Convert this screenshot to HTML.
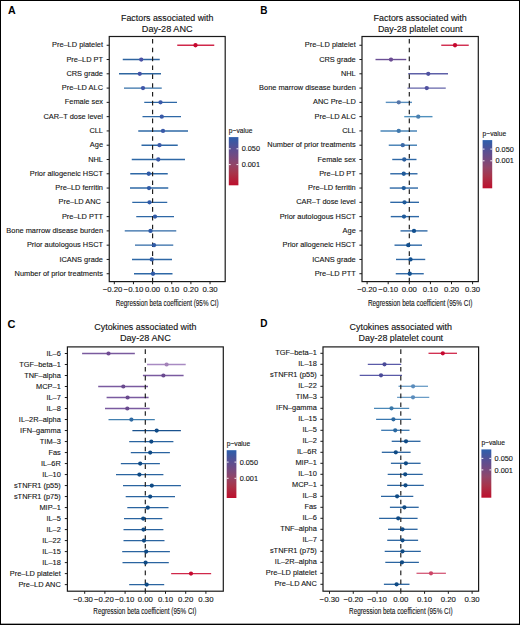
<!DOCTYPE html>
<html><head><meta charset="utf-8"><style>
html,body{margin:0;padding:0;background:#fff;}
body{width:520px;height:625px;overflow:hidden;position:relative;}
svg{position:absolute;left:0;top:0;font-family:"Liberation Sans",sans-serif;}
.t{stroke:#141414;stroke-width:0.12px;}
.bd{position:absolute;left:0;top:0;width:520px;height:625px;box-sizing:border-box;border:1px solid #000;border-bottom-width:1.35px;}
</style></head><body>
<svg width="520" height="625" viewBox="0 0 520 625">
<rect x="109.25" y="36.5" width="115.95" height="245.10" fill="none" stroke="#1a1a1a" stroke-width="1.2"/>
<line x1="106.65" y1="45.25" x2="109.25" y2="45.25" stroke="#1a1a1a" stroke-width="1"/>
<text x="103.0" y="47.35" text-anchor="end" font-size="7.7" fill="#141414" class="t" textLength="51.01" lengthAdjust="spacingAndGlyphs">Pre–LD platelet</text>
<line x1="106.65" y1="59.53" x2="109.25" y2="59.53" stroke="#1a1a1a" stroke-width="1"/>
<text x="103.0" y="61.63" text-anchor="end" font-size="7.7" fill="#141414" class="t" textLength="36.60" lengthAdjust="spacingAndGlyphs">Pre–LD PT</text>
<line x1="106.65" y1="73.81" x2="109.25" y2="73.81" stroke="#1a1a1a" stroke-width="1"/>
<text x="103.0" y="75.91" text-anchor="end" font-size="7.7" fill="#141414" class="t" textLength="36.61" lengthAdjust="spacingAndGlyphs">CRS grade</text>
<line x1="106.65" y1="88.09" x2="109.25" y2="88.09" stroke="#1a1a1a" stroke-width="1"/>
<text x="103.0" y="90.19" text-anchor="end" font-size="7.7" fill="#141414" class="t" textLength="41.13" lengthAdjust="spacingAndGlyphs">Pre–LD ALC</text>
<line x1="106.65" y1="102.37" x2="109.25" y2="102.37" stroke="#1a1a1a" stroke-width="1"/>
<text x="103.0" y="104.47" text-anchor="end" font-size="7.7" fill="#141414" class="t" textLength="38.25" lengthAdjust="spacingAndGlyphs">Female sex</text>
<line x1="106.65" y1="116.65" x2="109.25" y2="116.65" stroke="#1a1a1a" stroke-width="1"/>
<text x="103.0" y="118.75" text-anchor="end" font-size="7.7" fill="#141414" class="t" textLength="59.50" lengthAdjust="spacingAndGlyphs">CAR–T dose level</text>
<line x1="106.65" y1="130.93" x2="109.25" y2="130.93" stroke="#1a1a1a" stroke-width="1"/>
<text x="103.0" y="133.03" text-anchor="end" font-size="7.7" fill="#141414" class="t" textLength="13.58" lengthAdjust="spacingAndGlyphs">CLL</text>
<line x1="106.65" y1="145.21" x2="109.25" y2="145.21" stroke="#1a1a1a" stroke-width="1"/>
<text x="103.0" y="147.31" text-anchor="end" font-size="7.7" fill="#141414" class="t" textLength="13.17" lengthAdjust="spacingAndGlyphs">Age</text>
<line x1="106.65" y1="159.49" x2="109.25" y2="159.49" stroke="#1a1a1a" stroke-width="1"/>
<text x="103.0" y="161.59" text-anchor="end" font-size="7.7" fill="#141414" class="t" textLength="14.80" lengthAdjust="spacingAndGlyphs">NHL</text>
<line x1="106.65" y1="173.77" x2="109.25" y2="173.77" stroke="#1a1a1a" stroke-width="1"/>
<text x="103.0" y="175.87" text-anchor="end" font-size="7.7" fill="#141414" class="t" textLength="73.21" lengthAdjust="spacingAndGlyphs">Prior allogeneic HSCT</text>
<line x1="106.65" y1="188.05" x2="109.25" y2="188.05" stroke="#1a1a1a" stroke-width="1"/>
<text x="103.0" y="190.15" text-anchor="end" font-size="7.7" fill="#141414" class="t" textLength="47.71" lengthAdjust="spacingAndGlyphs">Pre–LD ferritin</text>
<line x1="106.65" y1="202.33" x2="109.25" y2="202.33" stroke="#1a1a1a" stroke-width="1"/>
<text x="103.0" y="204.43" text-anchor="end" font-size="7.7" fill="#141414" class="t" textLength="44.42" lengthAdjust="spacingAndGlyphs">Pre–LD ANC&#160;</text>
<line x1="106.65" y1="216.61" x2="109.25" y2="216.61" stroke="#1a1a1a" stroke-width="1"/>
<text x="103.0" y="218.71" text-anchor="end" font-size="7.7" fill="#141414" class="t" textLength="41.12" lengthAdjust="spacingAndGlyphs">Pre–LD PTT</text>
<line x1="106.65" y1="230.89" x2="109.25" y2="230.89" stroke="#1a1a1a" stroke-width="1"/>
<text x="103.0" y="232.99" text-anchor="end" font-size="7.7" fill="#141414" class="t" textLength="96.67" lengthAdjust="spacingAndGlyphs">Bone marrow disease burden</text>
<line x1="106.65" y1="245.17" x2="109.25" y2="245.17" stroke="#1a1a1a" stroke-width="1"/>
<text x="103.0" y="247.27" text-anchor="end" font-size="7.7" fill="#141414" class="t" textLength="76.09" lengthAdjust="spacingAndGlyphs">Prior autologous HSCT</text>
<line x1="106.65" y1="259.45" x2="109.25" y2="259.45" stroke="#1a1a1a" stroke-width="1"/>
<text x="103.0" y="261.55" text-anchor="end" font-size="7.7" fill="#141414" class="t" textLength="43.60" lengthAdjust="spacingAndGlyphs">ICANS grade</text>
<line x1="106.65" y1="273.73" x2="109.25" y2="273.73" stroke="#1a1a1a" stroke-width="1"/>
<text x="103.0" y="275.83" text-anchor="end" font-size="7.7" fill="#141414" class="t" textLength="88.42" lengthAdjust="spacingAndGlyphs">Number of prior treatments</text>
<line x1="177.25" y1="45.25" x2="214.25" y2="45.25" stroke="#d0284a" stroke-width="1.4"/>
<line x1="122.75" y1="59.53" x2="159.75" y2="59.53" stroke="#2e64a0" stroke-width="1.4"/>
<line x1="119" y1="73.81" x2="161" y2="73.81" stroke="#2e66a0" stroke-width="1.4"/>
<line x1="124" y1="88.09" x2="161.75" y2="88.09" stroke="#3570a8" stroke-width="1.4"/>
<line x1="144.25" y1="102.37" x2="177" y2="102.37" stroke="#2e68a6" stroke-width="1.4"/>
<line x1="142.5" y1="116.65" x2="181" y2="116.65" stroke="#2e68a6" stroke-width="1.4"/>
<line x1="138.25" y1="130.93" x2="188" y2="130.93" stroke="#2e68a6" stroke-width="1.4"/>
<line x1="141.5" y1="145.21" x2="177.75" y2="145.21" stroke="#2e68a6" stroke-width="1.4"/>
<line x1="131.75" y1="159.49" x2="185" y2="159.49" stroke="#2e68a6" stroke-width="1.4"/>
<line x1="130.25" y1="173.77" x2="167.75" y2="173.77" stroke="#2e68a6" stroke-width="1.4"/>
<line x1="130" y1="188.05" x2="168.25" y2="188.05" stroke="#2e68a6" stroke-width="1.4"/>
<line x1="132.25" y1="202.33" x2="167.25" y2="202.33" stroke="#2e68a6" stroke-width="1.4"/>
<line x1="136.25" y1="216.61" x2="174" y2="216.61" stroke="#2e68a6" stroke-width="1.4"/>
<line x1="124.75" y1="230.89" x2="176.25" y2="230.89" stroke="#2e68a6" stroke-width="1.4"/>
<line x1="135" y1="245.17" x2="173.25" y2="245.17" stroke="#2e68a6" stroke-width="1.4"/>
<line x1="132" y1="259.45" x2="172" y2="259.45" stroke="#2e68a6" stroke-width="1.4"/>
<line x1="134" y1="273.73" x2="172.5" y2="273.73" stroke="#2e68a6" stroke-width="1.4"/>
<line x1="152.6" y1="38.90" x2="152.6" y2="281.6" stroke="#1a1a1a" stroke-width="1.15" stroke-dasharray="4.6 4.25"/>
<circle cx="195.5" cy="45.25" r="2.15" fill="#c5082f"/>
<circle cx="141.25" cy="59.53" r="2.15" fill="#4a52a6"/>
<circle cx="139.75" cy="73.81" r="2.15" fill="#4253a6"/>
<circle cx="143" cy="88.09" r="2.15" fill="#3e55a8"/>
<circle cx="160.5" cy="102.37" r="2.15" fill="#3a5aa8"/>
<circle cx="161.75" cy="116.65" r="2.15" fill="#3a5aa8"/>
<circle cx="163" cy="130.93" r="2.15" fill="#3a5aa8"/>
<circle cx="159.5" cy="145.21" r="2.15" fill="#3a5aa8"/>
<circle cx="158.25" cy="159.49" r="2.15" fill="#3a5aa8"/>
<circle cx="148.75" cy="173.77" r="2.15" fill="#2f5aa6"/>
<circle cx="149" cy="188.05" r="2.15" fill="#2f5aa6"/>
<circle cx="149.5" cy="202.33" r="2.15" fill="#2f5aa6"/>
<circle cx="155" cy="216.61" r="2.15" fill="#2f5aa6"/>
<circle cx="150.5" cy="230.89" r="2.15" fill="#2f5aa6"/>
<circle cx="154" cy="245.17" r="2.15" fill="#2f5aa6"/>
<circle cx="151.75" cy="259.45" r="2.15" fill="#2f5aa6"/>
<circle cx="153" cy="273.73" r="2.15" fill="#2f5aa6"/>
<line x1="114.30" y1="281.6" x2="114.30" y2="284.20" stroke="#1a1a1a" stroke-width="1"/>
<text x="112.60" y="292.3" text-anchor="middle" font-size="7.8" fill="#141414" class="t">−0.20</text>
<line x1="133.45" y1="281.6" x2="133.45" y2="284.20" stroke="#1a1a1a" stroke-width="1"/>
<text x="133.45" y="292.3" text-anchor="middle" font-size="7.8" fill="#141414" class="t">−0.10</text>
<line x1="152.60" y1="281.6" x2="152.60" y2="284.20" stroke="#1a1a1a" stroke-width="1"/>
<text x="152.60" y="292.3" text-anchor="middle" font-size="7.8" fill="#141414" class="t">0.00</text>
<line x1="171.75" y1="281.6" x2="171.75" y2="284.20" stroke="#1a1a1a" stroke-width="1"/>
<text x="171.75" y="292.3" text-anchor="middle" font-size="7.8" fill="#141414" class="t">0.10</text>
<line x1="190.90" y1="281.6" x2="190.90" y2="284.20" stroke="#1a1a1a" stroke-width="1"/>
<text x="190.90" y="292.3" text-anchor="middle" font-size="7.8" fill="#141414" class="t">0.20</text>
<line x1="210.05" y1="281.6" x2="210.05" y2="284.20" stroke="#1a1a1a" stroke-width="1"/>
<text x="210.05" y="292.3" text-anchor="middle" font-size="7.8" fill="#141414" class="t">0.30</text>
<text x="167.22" y="305.5" text-anchor="middle" font-size="8.3" fill="#141414" class="t" textLength="103" lengthAdjust="spacingAndGlyphs">Regression beta coefficient (95% CI)</text>
<text x="167.22" y="21.0" text-anchor="middle" font-size="8.9" fill="#111" class="t" textLength="92.4" lengthAdjust="spacingAndGlyphs">Factors associated with</text>
<text x="167.22" y="31.7" text-anchor="middle" font-size="8.9" fill="#111" class="t" textLength="50.8" lengthAdjust="spacingAndGlyphs">Day-28 ANC</text>
<text x="8" y="14.4" font-size="10.6" font-weight="bold" fill="#000">A</text>
<defs><linearGradient id="gA" x1="0" y1="0" x2="0" y2="1"><stop offset="0" stop-color="#2c5fac"/><stop offset="0.12" stop-color="#42569e"/><stop offset="0.24" stop-color="#5a4f92"/><stop offset="0.4" stop-color="#744a80"/><stop offset="0.57" stop-color="#924568"/><stop offset="0.75" stop-color="#a8344a"/><stop offset="1" stop-color="#bd0f2c"/></linearGradient></defs>
<rect x="228.8" y="137.1" width="9.60" height="48.20" fill="url(#gA)"/>
<line x1="228.8" y1="148.8" x2="230.70" y2="148.8" stroke="#fff" stroke-width="0.9"/>
<line x1="236.50" y1="148.8" x2="238.4" y2="148.8" stroke="#fff" stroke-width="0.9"/>
<text x="241.70" y="151.40" font-size="7.3" fill="#141414" class="t">0.050</text>
<line x1="228.8" y1="164.6" x2="230.70" y2="164.6" stroke="#fff" stroke-width="0.9"/>
<line x1="236.50" y1="164.6" x2="238.4" y2="164.6" stroke="#fff" stroke-width="0.9"/>
<text x="241.70" y="167.20" font-size="7.3" fill="#141414" class="t">0.001</text>
<text x="228.8" y="132.80" font-size="7.3" fill="#141414" class="t" textLength="23.6" lengthAdjust="spacingAndGlyphs">p−value</text>
<rect x="362.0" y="36.5" width="116.30" height="245.10" fill="none" stroke="#1a1a1a" stroke-width="1.2"/>
<line x1="359.40" y1="45.25" x2="362.0" y2="45.25" stroke="#1a1a1a" stroke-width="1"/>
<text x="355.75" y="47.35" text-anchor="end" font-size="7.7" fill="#141414" class="t" textLength="51.01" lengthAdjust="spacingAndGlyphs">Pre–LD platelet</text>
<line x1="359.40" y1="59.53" x2="362.0" y2="59.53" stroke="#1a1a1a" stroke-width="1"/>
<text x="355.75" y="61.63" text-anchor="end" font-size="7.7" fill="#141414" class="t" textLength="36.61" lengthAdjust="spacingAndGlyphs">CRS grade</text>
<line x1="359.40" y1="73.81" x2="362.0" y2="73.81" stroke="#1a1a1a" stroke-width="1"/>
<text x="355.75" y="75.91" text-anchor="end" font-size="7.7" fill="#141414" class="t" textLength="14.80" lengthAdjust="spacingAndGlyphs">NHL</text>
<line x1="359.40" y1="88.09" x2="362.0" y2="88.09" stroke="#1a1a1a" stroke-width="1"/>
<text x="355.75" y="90.19" text-anchor="end" font-size="7.7" fill="#141414" class="t" textLength="96.67" lengthAdjust="spacingAndGlyphs">Bone marrow disease burden</text>
<line x1="359.40" y1="102.37" x2="362.0" y2="102.37" stroke="#1a1a1a" stroke-width="1"/>
<text x="355.75" y="104.47" text-anchor="end" font-size="7.7" fill="#141414" class="t" textLength="42.77" lengthAdjust="spacingAndGlyphs">ANC Pre–LD</text>
<line x1="359.40" y1="116.65" x2="362.0" y2="116.65" stroke="#1a1a1a" stroke-width="1"/>
<text x="355.75" y="118.75" text-anchor="end" font-size="7.7" fill="#141414" class="t" textLength="41.13" lengthAdjust="spacingAndGlyphs">Pre–LD ALC</text>
<line x1="359.40" y1="130.93" x2="362.0" y2="130.93" stroke="#1a1a1a" stroke-width="1"/>
<text x="355.75" y="133.03" text-anchor="end" font-size="7.7" fill="#141414" class="t" textLength="13.58" lengthAdjust="spacingAndGlyphs">CLL</text>
<line x1="359.40" y1="145.21" x2="362.0" y2="145.21" stroke="#1a1a1a" stroke-width="1"/>
<text x="355.75" y="147.31" text-anchor="end" font-size="7.7" fill="#141414" class="t" textLength="88.42" lengthAdjust="spacingAndGlyphs">Number of prior treatments</text>
<line x1="359.40" y1="159.49" x2="362.0" y2="159.49" stroke="#1a1a1a" stroke-width="1"/>
<text x="355.75" y="161.59" text-anchor="end" font-size="7.7" fill="#141414" class="t" textLength="38.25" lengthAdjust="spacingAndGlyphs">Female sex</text>
<line x1="359.40" y1="173.77" x2="362.0" y2="173.77" stroke="#1a1a1a" stroke-width="1"/>
<text x="355.75" y="175.87" text-anchor="end" font-size="7.7" fill="#141414" class="t" textLength="36.60" lengthAdjust="spacingAndGlyphs">Pre–LD PT</text>
<line x1="359.40" y1="188.05" x2="362.0" y2="188.05" stroke="#1a1a1a" stroke-width="1"/>
<text x="355.75" y="190.15" text-anchor="end" font-size="7.7" fill="#141414" class="t" textLength="47.71" lengthAdjust="spacingAndGlyphs">Pre–LD ferritin</text>
<line x1="359.40" y1="202.33" x2="362.0" y2="202.33" stroke="#1a1a1a" stroke-width="1"/>
<text x="355.75" y="204.43" text-anchor="end" font-size="7.7" fill="#141414" class="t" textLength="59.50" lengthAdjust="spacingAndGlyphs">CAR–T dose level</text>
<line x1="359.40" y1="216.61" x2="362.0" y2="216.61" stroke="#1a1a1a" stroke-width="1"/>
<text x="355.75" y="218.71" text-anchor="end" font-size="7.7" fill="#141414" class="t" textLength="76.09" lengthAdjust="spacingAndGlyphs">Prior autologous HSCT</text>
<line x1="359.40" y1="230.89" x2="362.0" y2="230.89" stroke="#1a1a1a" stroke-width="1"/>
<text x="355.75" y="232.99" text-anchor="end" font-size="7.7" fill="#141414" class="t" textLength="13.17" lengthAdjust="spacingAndGlyphs">Age</text>
<line x1="359.40" y1="245.17" x2="362.0" y2="245.17" stroke="#1a1a1a" stroke-width="1"/>
<text x="355.75" y="247.27" text-anchor="end" font-size="7.7" fill="#141414" class="t" textLength="73.21" lengthAdjust="spacingAndGlyphs">Prior allogeneic HSCT</text>
<line x1="359.40" y1="259.45" x2="362.0" y2="259.45" stroke="#1a1a1a" stroke-width="1"/>
<text x="355.75" y="261.55" text-anchor="end" font-size="7.7" fill="#141414" class="t" textLength="43.60" lengthAdjust="spacingAndGlyphs">ICANS grade</text>
<line x1="359.40" y1="273.73" x2="362.0" y2="273.73" stroke="#1a1a1a" stroke-width="1"/>
<text x="355.75" y="275.83" text-anchor="end" font-size="7.7" fill="#141414" class="t" textLength="41.12" lengthAdjust="spacingAndGlyphs">Pre–LD PTT</text>
<line x1="441.25" y1="45.25" x2="468.75" y2="45.25" stroke="#d0284a" stroke-width="1.4"/>
<line x1="375.5" y1="59.53" x2="406.25" y2="59.53" stroke="#6a4f95" stroke-width="1.4"/>
<line x1="408.25" y1="73.81" x2="448" y2="73.81" stroke="#5e60a8" stroke-width="1.4"/>
<line x1="407.5" y1="88.09" x2="445.75" y2="88.09" stroke="#6464aa" stroke-width="1.4"/>
<line x1="385.75" y1="102.37" x2="412" y2="102.37" stroke="#5a90c0" stroke-width="1.4"/>
<line x1="404.25" y1="116.65" x2="432.5" y2="116.65" stroke="#5090bd" stroke-width="1.4"/>
<line x1="380.5" y1="130.93" x2="417" y2="130.93" stroke="#4a86b8" stroke-width="1.4"/>
<line x1="388.75" y1="145.21" x2="417" y2="145.21" stroke="#3f7cb2" stroke-width="1.4"/>
<line x1="392.25" y1="159.49" x2="416.5" y2="159.49" stroke="#2e68a6" stroke-width="1.4"/>
<line x1="390.25" y1="173.77" x2="417.5" y2="173.77" stroke="#2e68a6" stroke-width="1.4"/>
<line x1="389.75" y1="188.05" x2="418" y2="188.05" stroke="#2e68a6" stroke-width="1.4"/>
<line x1="390.25" y1="202.33" x2="419" y2="202.33" stroke="#2e68a6" stroke-width="1.4"/>
<line x1="390.75" y1="216.61" x2="419" y2="216.61" stroke="#2e68a6" stroke-width="1.4"/>
<line x1="400.5" y1="230.89" x2="427.5" y2="230.89" stroke="#2e68a6" stroke-width="1.4"/>
<line x1="394.5" y1="245.17" x2="422" y2="245.17" stroke="#2e68a6" stroke-width="1.4"/>
<line x1="396" y1="259.45" x2="425.25" y2="259.45" stroke="#2e68a6" stroke-width="1.4"/>
<line x1="395.75" y1="273.73" x2="423.75" y2="273.73" stroke="#2e68a6" stroke-width="1.4"/>
<line x1="409.3" y1="38.90" x2="409.3" y2="281.6" stroke="#1a1a1a" stroke-width="1.15" stroke-dasharray="4.6 4.25"/>
<circle cx="455" cy="45.25" r="2.15" fill="#c5082f"/>
<circle cx="391" cy="59.53" r="2.15" fill="#6b4c93"/>
<circle cx="428.25" cy="73.81" r="2.15" fill="#4f52a0"/>
<circle cx="426.75" cy="88.09" r="2.15" fill="#4f50a0"/>
<circle cx="398.75" cy="102.37" r="2.15" fill="#5575a8"/>
<circle cx="418.25" cy="116.65" r="2.15" fill="#4a80b0"/>
<circle cx="398.75" cy="130.93" r="2.15" fill="#3f78ad"/>
<circle cx="402.75" cy="145.21" r="2.15" fill="#3a6aa8"/>
<circle cx="404.25" cy="159.49" r="2.15" fill="#2a5e9e"/>
<circle cx="403.75" cy="173.77" r="2.15" fill="#1f5a9a"/>
<circle cx="403.75" cy="188.05" r="2.15" fill="#1f5a9a"/>
<circle cx="404.5" cy="202.33" r="2.15" fill="#1f5a9a"/>
<circle cx="404" cy="216.61" r="2.15" fill="#1f5a9a"/>
<circle cx="414" cy="230.89" r="2.15" fill="#12508f"/>
<circle cx="408.25" cy="245.17" r="2.15" fill="#12508f"/>
<circle cx="410.5" cy="259.45" r="2.15" fill="#12508f"/>
<circle cx="409.75" cy="273.73" r="2.15" fill="#12508f"/>
<line x1="367.10" y1="281.6" x2="367.10" y2="284.20" stroke="#1a1a1a" stroke-width="1"/>
<text x="367.10" y="292.3" text-anchor="middle" font-size="7.8" fill="#141414" class="t">−0.20</text>
<line x1="388.20" y1="281.6" x2="388.20" y2="284.20" stroke="#1a1a1a" stroke-width="1"/>
<text x="388.20" y="292.3" text-anchor="middle" font-size="7.8" fill="#141414" class="t">−0.10</text>
<line x1="409.30" y1="281.6" x2="409.30" y2="284.20" stroke="#1a1a1a" stroke-width="1"/>
<text x="409.30" y="292.3" text-anchor="middle" font-size="7.8" fill="#141414" class="t">0.00</text>
<line x1="430.40" y1="281.6" x2="430.40" y2="284.20" stroke="#1a1a1a" stroke-width="1"/>
<text x="430.40" y="292.3" text-anchor="middle" font-size="7.8" fill="#141414" class="t">0.10</text>
<line x1="451.50" y1="281.6" x2="451.50" y2="284.20" stroke="#1a1a1a" stroke-width="1"/>
<text x="451.50" y="292.3" text-anchor="middle" font-size="7.8" fill="#141414" class="t">0.20</text>
<line x1="472.60" y1="281.6" x2="472.60" y2="284.20" stroke="#1a1a1a" stroke-width="1"/>
<text x="472.60" y="292.3" text-anchor="middle" font-size="7.8" fill="#141414" class="t">0.30</text>
<text x="420.15" y="305.5" text-anchor="middle" font-size="8.3" fill="#141414" class="t" textLength="104.5" lengthAdjust="spacingAndGlyphs">Regression beta coefficient (95% CI)</text>
<text x="420.15" y="21.0" text-anchor="middle" font-size="8.9" fill="#111" class="t" textLength="93.2" lengthAdjust="spacingAndGlyphs">Factors associated with</text>
<text x="420.15" y="31.7" text-anchor="middle" font-size="8.9" fill="#111" class="t" textLength="84.5" lengthAdjust="spacingAndGlyphs">Day-28 platelet count</text>
<text x="260.2" y="13.7" font-size="10.0" font-weight="bold" fill="#000">B</text>
<defs><linearGradient id="gB" x1="0" y1="0" x2="0" y2="1"><stop offset="0" stop-color="#2c5fac"/><stop offset="0.12" stop-color="#42569e"/><stop offset="0.24" stop-color="#5a4f92"/><stop offset="0.4" stop-color="#744a80"/><stop offset="0.57" stop-color="#924568"/><stop offset="0.75" stop-color="#a8344a"/><stop offset="1" stop-color="#bd0f2c"/></linearGradient></defs>
<rect x="482.6" y="140.1" width="9.60" height="48.20" fill="url(#gB)"/>
<line x1="482.6" y1="149.1" x2="484.50" y2="149.1" stroke="#fff" stroke-width="0.9"/>
<line x1="490.30" y1="149.1" x2="492.2" y2="149.1" stroke="#fff" stroke-width="0.9"/>
<text x="495.50" y="151.70" font-size="7.3" fill="#141414" class="t">0.050</text>
<line x1="482.6" y1="160.8" x2="484.50" y2="160.8" stroke="#fff" stroke-width="0.9"/>
<line x1="490.30" y1="160.8" x2="492.2" y2="160.8" stroke="#fff" stroke-width="0.9"/>
<text x="495.50" y="163.40" font-size="7.3" fill="#141414" class="t">0.001</text>
<text x="482.6" y="135.90" font-size="7.3" fill="#141414" class="t" textLength="23.6" lengthAdjust="spacingAndGlyphs">p−value</text>
<rect x="67.4" y="346.9" width="155.90" height="244.30" fill="none" stroke="#1a1a1a" stroke-width="1.2"/>
<line x1="64.80" y1="353.50" x2="67.4" y2="353.50" stroke="#1a1a1a" stroke-width="1"/>
<text x="60.8" y="355.55" text-anchor="end" font-size="7.7" fill="#141414" class="t" textLength="14.40" lengthAdjust="spacingAndGlyphs">IL–6</text>
<line x1="64.80" y1="364.50" x2="67.4" y2="364.50" stroke="#1a1a1a" stroke-width="1"/>
<text x="60.8" y="366.56" text-anchor="end" font-size="7.7" fill="#141414" class="t" textLength="41.55" lengthAdjust="spacingAndGlyphs">TGF–beta–1</text>
<line x1="64.80" y1="375.51" x2="67.4" y2="375.51" stroke="#1a1a1a" stroke-width="1"/>
<text x="60.8" y="377.56" text-anchor="end" font-size="7.7" fill="#141414" class="t" textLength="36.61" lengthAdjust="spacingAndGlyphs">TNF–alpha</text>
<line x1="64.80" y1="386.51" x2="67.4" y2="386.51" stroke="#1a1a1a" stroke-width="1"/>
<text x="60.8" y="388.56" text-anchor="end" font-size="7.7" fill="#141414" class="t" textLength="24.68" lengthAdjust="spacingAndGlyphs">MCP–1</text>
<line x1="64.80" y1="397.52" x2="67.4" y2="397.52" stroke="#1a1a1a" stroke-width="1"/>
<text x="60.8" y="399.57" text-anchor="end" font-size="7.7" fill="#141414" class="t" textLength="14.40" lengthAdjust="spacingAndGlyphs">IL–7</text>
<line x1="64.80" y1="408.52" x2="67.4" y2="408.52" stroke="#1a1a1a" stroke-width="1"/>
<text x="60.8" y="410.57" text-anchor="end" font-size="7.7" fill="#141414" class="t" textLength="14.40" lengthAdjust="spacingAndGlyphs">IL–8</text>
<line x1="64.80" y1="419.53" x2="67.4" y2="419.53" stroke="#1a1a1a" stroke-width="1"/>
<text x="60.8" y="421.58" text-anchor="end" font-size="7.7" fill="#141414" class="t" textLength="41.97" lengthAdjust="spacingAndGlyphs">IL–2R–alpha</text>
<line x1="64.80" y1="430.54" x2="67.4" y2="430.54" stroke="#1a1a1a" stroke-width="1"/>
<text x="60.8" y="432.59" text-anchor="end" font-size="7.7" fill="#141414" class="t" textLength="40.71" lengthAdjust="spacingAndGlyphs">IFN–gamma</text>
<line x1="64.80" y1="441.54" x2="67.4" y2="441.54" stroke="#1a1a1a" stroke-width="1"/>
<text x="60.8" y="443.59" text-anchor="end" font-size="7.7" fill="#141414" class="t" textLength="20.97" lengthAdjust="spacingAndGlyphs">TIM–3</text>
<line x1="64.80" y1="452.55" x2="67.4" y2="452.55" stroke="#1a1a1a" stroke-width="1"/>
<text x="60.8" y="454.60" text-anchor="end" font-size="7.7" fill="#141414" class="t" textLength="12.34" lengthAdjust="spacingAndGlyphs">Fas</text>
<line x1="64.80" y1="463.55" x2="67.4" y2="463.55" stroke="#1a1a1a" stroke-width="1"/>
<text x="60.8" y="465.60" text-anchor="end" font-size="7.7" fill="#141414" class="t" textLength="19.75" lengthAdjust="spacingAndGlyphs">IL–6R</text>
<line x1="64.80" y1="474.56" x2="67.4" y2="474.56" stroke="#1a1a1a" stroke-width="1"/>
<text x="60.8" y="476.61" text-anchor="end" font-size="7.7" fill="#141414" class="t" textLength="18.52" lengthAdjust="spacingAndGlyphs">IL–10</text>
<line x1="64.80" y1="485.56" x2="67.4" y2="485.56" stroke="#1a1a1a" stroke-width="1"/>
<text x="60.8" y="487.61" text-anchor="end" font-size="7.7" fill="#141414" class="t" textLength="46.88" lengthAdjust="spacingAndGlyphs">sTNFR1 (p55)</text>
<line x1="64.80" y1="496.56" x2="67.4" y2="496.56" stroke="#1a1a1a" stroke-width="1"/>
<text x="60.8" y="498.62" text-anchor="end" font-size="7.7" fill="#141414" class="t" textLength="46.88" lengthAdjust="spacingAndGlyphs">sTNFR1 (p75)</text>
<line x1="64.80" y1="507.57" x2="67.4" y2="507.57" stroke="#1a1a1a" stroke-width="1"/>
<text x="60.8" y="509.62" text-anchor="end" font-size="7.7" fill="#141414" class="t" textLength="21.39" lengthAdjust="spacingAndGlyphs">MIP–1</text>
<line x1="64.80" y1="518.58" x2="67.4" y2="518.58" stroke="#1a1a1a" stroke-width="1"/>
<text x="60.8" y="520.62" text-anchor="end" font-size="7.7" fill="#141414" class="t" textLength="14.40" lengthAdjust="spacingAndGlyphs">IL–5</text>
<line x1="64.80" y1="529.58" x2="67.4" y2="529.58" stroke="#1a1a1a" stroke-width="1"/>
<text x="60.8" y="531.63" text-anchor="end" font-size="7.7" fill="#141414" class="t" textLength="14.40" lengthAdjust="spacingAndGlyphs">IL–2</text>
<line x1="64.80" y1="540.59" x2="67.4" y2="540.59" stroke="#1a1a1a" stroke-width="1"/>
<text x="60.8" y="542.63" text-anchor="end" font-size="7.7" fill="#141414" class="t" textLength="18.52" lengthAdjust="spacingAndGlyphs">IL–22</text>
<line x1="64.80" y1="551.59" x2="67.4" y2="551.59" stroke="#1a1a1a" stroke-width="1"/>
<text x="60.8" y="553.64" text-anchor="end" font-size="7.7" fill="#141414" class="t" textLength="18.52" lengthAdjust="spacingAndGlyphs">IL–15</text>
<line x1="64.80" y1="562.60" x2="67.4" y2="562.60" stroke="#1a1a1a" stroke-width="1"/>
<text x="60.8" y="564.64" text-anchor="end" font-size="7.7" fill="#141414" class="t" textLength="18.52" lengthAdjust="spacingAndGlyphs">IL–18</text>
<line x1="64.80" y1="573.60" x2="67.4" y2="573.60" stroke="#1a1a1a" stroke-width="1"/>
<text x="60.8" y="575.65" text-anchor="end" font-size="7.7" fill="#141414" class="t" textLength="51.01" lengthAdjust="spacingAndGlyphs">Pre–LD platelet</text>
<line x1="64.80" y1="584.61" x2="67.4" y2="584.61" stroke="#1a1a1a" stroke-width="1"/>
<text x="60.8" y="586.65" text-anchor="end" font-size="7.7" fill="#141414" class="t" textLength="42.36" lengthAdjust="spacingAndGlyphs">Pre–LD ANC</text>
<line x1="82.1" y1="353.50" x2="134.85" y2="353.50" stroke="#7a5a9e" stroke-width="1.3"/>
<line x1="147" y1="364.50" x2="185.7" y2="364.50" stroke="#a88ac2" stroke-width="1.3"/>
<line x1="142.9" y1="375.51" x2="183.6" y2="375.51" stroke="#7a5aa0" stroke-width="1.3"/>
<line x1="98.2" y1="386.51" x2="148" y2="386.51" stroke="#7a5aa0" stroke-width="1.3"/>
<line x1="106.6" y1="397.52" x2="148.6" y2="397.52" stroke="#7a5aa0" stroke-width="1.3"/>
<line x1="105" y1="408.52" x2="149.7" y2="408.52" stroke="#7a5aa0" stroke-width="1.3"/>
<line x1="108.5" y1="419.53" x2="154.8" y2="419.53" stroke="#4280b0" stroke-width="1.3"/>
<line x1="132.4" y1="430.54" x2="180.9" y2="430.54" stroke="#1a528e" stroke-width="1.3"/>
<line x1="129.2" y1="441.54" x2="173.4" y2="441.54" stroke="#2a64a0" stroke-width="1.3"/>
<line x1="130.8" y1="452.55" x2="169.9" y2="452.55" stroke="#2a64a0" stroke-width="1.3"/>
<line x1="120.85" y1="463.55" x2="159.9" y2="463.55" stroke="#2a64a0" stroke-width="1.3"/>
<line x1="116" y1="474.56" x2="163.4" y2="474.56" stroke="#2a64a0" stroke-width="1.3"/>
<line x1="123" y1="485.56" x2="180.9" y2="485.56" stroke="#2a64a0" stroke-width="1.3"/>
<line x1="125.7" y1="496.56" x2="175" y2="496.56" stroke="#2a64a0" stroke-width="1.3"/>
<line x1="127.3" y1="507.57" x2="168.5" y2="507.57" stroke="#2a64a0" stroke-width="1.3"/>
<line x1="124" y1="518.58" x2="162.3" y2="518.58" stroke="#2a64a0" stroke-width="1.3"/>
<line x1="123.5" y1="529.58" x2="163.4" y2="529.58" stroke="#2a64a0" stroke-width="1.3"/>
<line x1="123.5" y1="540.59" x2="164.5" y2="540.59" stroke="#2a64a0" stroke-width="1.3"/>
<line x1="122.2" y1="551.59" x2="169.9" y2="551.59" stroke="#2a64a0" stroke-width="1.3"/>
<line x1="122.5" y1="562.60" x2="168.8" y2="562.60" stroke="#2a64a0" stroke-width="1.3"/>
<line x1="171.15" y1="573.60" x2="211.15" y2="573.60" stroke="#d0284a" stroke-width="1.3"/>
<line x1="129.2" y1="584.61" x2="164.2" y2="584.61" stroke="#2a64a0" stroke-width="1.3"/>
<line x1="145.3" y1="349.30" x2="145.3" y2="591.2" stroke="#1a1a1a" stroke-width="1.15" stroke-dasharray="4.6 4.25"/>
<circle cx="108.5" cy="353.50" r="2.1" fill="#6f4a92"/>
<circle cx="166.6" cy="364.50" r="2.1" fill="#a382b8"/>
<circle cx="163.4" cy="375.51" r="2.1" fill="#6a4a90"/>
<circle cx="123.3" cy="386.51" r="2.1" fill="#6a4a8e"/>
<circle cx="127.6" cy="397.52" r="2.1" fill="#6a4a8e"/>
<circle cx="127.3" cy="408.52" r="2.1" fill="#6a4a8e"/>
<circle cx="131.4" cy="419.53" r="2.1" fill="#2f6aa2"/>
<circle cx="156.7" cy="430.54" r="2.1" fill="#0f4a86"/>
<circle cx="151.3" cy="441.54" r="2.1" fill="#0f4a84"/>
<circle cx="150.2" cy="452.55" r="2.1" fill="#0f4a84"/>
<circle cx="140.2" cy="463.55" r="2.1" fill="#0f4a84"/>
<circle cx="139.4" cy="474.56" r="2.1" fill="#0f4a84"/>
<circle cx="151.8" cy="485.56" r="2.1" fill="#0f4a84"/>
<circle cx="150.2" cy="496.56" r="2.1" fill="#0f4a84"/>
<circle cx="147.8" cy="507.57" r="2.1" fill="#0f4a84"/>
<circle cx="143.2" cy="518.58" r="2.1" fill="#0f4a84"/>
<circle cx="143.5" cy="529.58" r="2.1" fill="#0f4a84"/>
<circle cx="144" cy="540.59" r="2.1" fill="#0f4a84"/>
<circle cx="146.2" cy="551.59" r="2.1" fill="#0f4a84"/>
<circle cx="145.6" cy="562.60" r="2.1" fill="#0f4a84"/>
<circle cx="191" cy="573.60" r="2.1" fill="#c5082f"/>
<circle cx="146.7" cy="584.61" r="2.1" fill="#0f4a84"/>
<line x1="84.70" y1="591.2" x2="84.70" y2="593.80" stroke="#1a1a1a" stroke-width="1"/>
<text x="83.00" y="602.3" text-anchor="middle" font-size="7.8" fill="#141414" class="t">−0.30</text>
<line x1="104.90" y1="591.2" x2="104.90" y2="593.80" stroke="#1a1a1a" stroke-width="1"/>
<text x="103.90" y="602.3" text-anchor="middle" font-size="7.8" fill="#141414" class="t">−0.20</text>
<line x1="125.10" y1="591.2" x2="125.10" y2="593.80" stroke="#1a1a1a" stroke-width="1"/>
<text x="124.60" y="602.3" text-anchor="middle" font-size="7.8" fill="#141414" class="t">−0.10</text>
<line x1="145.30" y1="591.2" x2="145.30" y2="593.80" stroke="#1a1a1a" stroke-width="1"/>
<text x="145.30" y="602.3" text-anchor="middle" font-size="7.8" fill="#141414" class="t">0.00</text>
<line x1="165.50" y1="591.2" x2="165.50" y2="593.80" stroke="#1a1a1a" stroke-width="1"/>
<text x="165.50" y="602.3" text-anchor="middle" font-size="7.8" fill="#141414" class="t">0.10</text>
<line x1="185.70" y1="591.2" x2="185.70" y2="593.80" stroke="#1a1a1a" stroke-width="1"/>
<text x="185.70" y="602.3" text-anchor="middle" font-size="7.8" fill="#141414" class="t">0.20</text>
<line x1="205.90" y1="591.2" x2="205.90" y2="593.80" stroke="#1a1a1a" stroke-width="1"/>
<text x="205.90" y="602.3" text-anchor="middle" font-size="7.8" fill="#141414" class="t">0.30</text>
<text x="144.85" y="614.2" text-anchor="middle" font-size="8.3" fill="#141414" class="t" textLength="103" lengthAdjust="spacingAndGlyphs">Regression beta coefficient (95% CI)</text>
<text x="145.35" y="329.8" text-anchor="middle" font-size="8.9" fill="#111" class="t" textLength="102.0" lengthAdjust="spacingAndGlyphs">Cytokines associated with</text>
<text x="145.35" y="340.6" text-anchor="middle" font-size="8.9" fill="#111" class="t" textLength="50.8" lengthAdjust="spacingAndGlyphs">Day-28 ANC</text>
<text x="7.4" y="327.6" font-size="11" font-weight="bold" fill="#000">C</text>
<defs><linearGradient id="gC" x1="0" y1="0" x2="0" y2="1"><stop offset="0" stop-color="#2c5fac"/><stop offset="0.12" stop-color="#42569e"/><stop offset="0.24" stop-color="#5a4f92"/><stop offset="0.4" stop-color="#744a80"/><stop offset="0.57" stop-color="#924568"/><stop offset="0.75" stop-color="#a8344a"/><stop offset="1" stop-color="#bd0f2c"/></linearGradient></defs>
<rect x="226.7" y="450.2" width="9.70" height="47.80" fill="url(#gC)"/>
<line x1="226.7" y1="462.1" x2="228.60" y2="462.1" stroke="#fff" stroke-width="0.9"/>
<line x1="234.50" y1="462.1" x2="236.4" y2="462.1" stroke="#fff" stroke-width="0.9"/>
<text x="239.70" y="464.70" font-size="7.3" fill="#141414" class="t">0.050</text>
<line x1="226.7" y1="478.3" x2="228.60" y2="478.3" stroke="#fff" stroke-width="0.9"/>
<line x1="234.50" y1="478.3" x2="236.4" y2="478.3" stroke="#fff" stroke-width="0.9"/>
<text x="239.70" y="480.90" font-size="7.3" fill="#141414" class="t">0.001</text>
<text x="226.7" y="445.60" font-size="7.3" fill="#141414" class="t" textLength="23.6" lengthAdjust="spacingAndGlyphs">p−value</text>
<rect x="323.0" y="346.9" width="155.60" height="244.30" fill="none" stroke="#1a1a1a" stroke-width="1.2"/>
<line x1="320.40" y1="353.30" x2="323.0" y2="353.30" stroke="#1a1a1a" stroke-width="1"/>
<text x="316.8" y="355.30" text-anchor="end" font-size="7.7" fill="#141414" class="t" textLength="41.55" lengthAdjust="spacingAndGlyphs">TGF–beta–1</text>
<line x1="320.40" y1="364.30" x2="323.0" y2="364.30" stroke="#1a1a1a" stroke-width="1"/>
<text x="316.8" y="366.30" text-anchor="end" font-size="7.7" fill="#141414" class="t" textLength="18.52" lengthAdjust="spacingAndGlyphs">IL–18</text>
<line x1="320.40" y1="375.30" x2="323.0" y2="375.30" stroke="#1a1a1a" stroke-width="1"/>
<text x="316.8" y="377.30" text-anchor="end" font-size="7.7" fill="#141414" class="t" textLength="46.88" lengthAdjust="spacingAndGlyphs">sTNFR1 (p55)</text>
<line x1="320.40" y1="386.30" x2="323.0" y2="386.30" stroke="#1a1a1a" stroke-width="1"/>
<text x="316.8" y="388.30" text-anchor="end" font-size="7.7" fill="#141414" class="t" textLength="18.52" lengthAdjust="spacingAndGlyphs">IL–22</text>
<line x1="320.40" y1="397.30" x2="323.0" y2="397.30" stroke="#1a1a1a" stroke-width="1"/>
<text x="316.8" y="399.30" text-anchor="end" font-size="7.7" fill="#141414" class="t" textLength="20.97" lengthAdjust="spacingAndGlyphs">TIM–3</text>
<line x1="320.40" y1="408.30" x2="323.0" y2="408.30" stroke="#1a1a1a" stroke-width="1"/>
<text x="316.8" y="410.30" text-anchor="end" font-size="7.7" fill="#141414" class="t" textLength="40.71" lengthAdjust="spacingAndGlyphs">IFN–gamma</text>
<line x1="320.40" y1="419.30" x2="323.0" y2="419.30" stroke="#1a1a1a" stroke-width="1"/>
<text x="316.8" y="421.30" text-anchor="end" font-size="7.7" fill="#141414" class="t" textLength="18.52" lengthAdjust="spacingAndGlyphs">IL–15</text>
<line x1="320.40" y1="430.30" x2="323.0" y2="430.30" stroke="#1a1a1a" stroke-width="1"/>
<text x="316.8" y="432.30" text-anchor="end" font-size="7.7" fill="#141414" class="t" textLength="14.40" lengthAdjust="spacingAndGlyphs">IL–5</text>
<line x1="320.40" y1="441.30" x2="323.0" y2="441.30" stroke="#1a1a1a" stroke-width="1"/>
<text x="316.8" y="443.30" text-anchor="end" font-size="7.7" fill="#141414" class="t" textLength="14.40" lengthAdjust="spacingAndGlyphs">IL–2</text>
<line x1="320.40" y1="452.30" x2="323.0" y2="452.30" stroke="#1a1a1a" stroke-width="1"/>
<text x="316.8" y="454.30" text-anchor="end" font-size="7.7" fill="#141414" class="t" textLength="19.75" lengthAdjust="spacingAndGlyphs">IL–6R</text>
<line x1="320.40" y1="463.30" x2="323.0" y2="463.30" stroke="#1a1a1a" stroke-width="1"/>
<text x="316.8" y="465.30" text-anchor="end" font-size="7.7" fill="#141414" class="t" textLength="21.39" lengthAdjust="spacingAndGlyphs">MIP–1</text>
<line x1="320.40" y1="474.30" x2="323.0" y2="474.30" stroke="#1a1a1a" stroke-width="1"/>
<text x="316.8" y="476.30" text-anchor="end" font-size="7.7" fill="#141414" class="t" textLength="18.52" lengthAdjust="spacingAndGlyphs">IL–10</text>
<line x1="320.40" y1="485.30" x2="323.0" y2="485.30" stroke="#1a1a1a" stroke-width="1"/>
<text x="316.8" y="487.30" text-anchor="end" font-size="7.7" fill="#141414" class="t" textLength="24.68" lengthAdjust="spacingAndGlyphs">MCP–1</text>
<line x1="320.40" y1="496.30" x2="323.0" y2="496.30" stroke="#1a1a1a" stroke-width="1"/>
<text x="316.8" y="498.30" text-anchor="end" font-size="7.7" fill="#141414" class="t" textLength="14.40" lengthAdjust="spacingAndGlyphs">IL–8</text>
<line x1="320.40" y1="507.30" x2="323.0" y2="507.30" stroke="#1a1a1a" stroke-width="1"/>
<text x="316.8" y="509.30" text-anchor="end" font-size="7.7" fill="#141414" class="t" textLength="12.34" lengthAdjust="spacingAndGlyphs">Fas</text>
<line x1="320.40" y1="518.30" x2="323.0" y2="518.30" stroke="#1a1a1a" stroke-width="1"/>
<text x="316.8" y="520.30" text-anchor="end" font-size="7.7" fill="#141414" class="t" textLength="14.40" lengthAdjust="spacingAndGlyphs">IL–6</text>
<line x1="320.40" y1="529.30" x2="323.0" y2="529.30" stroke="#1a1a1a" stroke-width="1"/>
<text x="316.8" y="531.30" text-anchor="end" font-size="7.7" fill="#141414" class="t" textLength="36.61" lengthAdjust="spacingAndGlyphs">TNF–alpha</text>
<line x1="320.40" y1="540.30" x2="323.0" y2="540.30" stroke="#1a1a1a" stroke-width="1"/>
<text x="316.8" y="542.30" text-anchor="end" font-size="7.7" fill="#141414" class="t" textLength="14.40" lengthAdjust="spacingAndGlyphs">IL–7</text>
<line x1="320.40" y1="551.30" x2="323.0" y2="551.30" stroke="#1a1a1a" stroke-width="1"/>
<text x="316.8" y="553.30" text-anchor="end" font-size="7.7" fill="#141414" class="t" textLength="46.88" lengthAdjust="spacingAndGlyphs">sTNFR1 (p75)</text>
<line x1="320.40" y1="562.30" x2="323.0" y2="562.30" stroke="#1a1a1a" stroke-width="1"/>
<text x="316.8" y="564.30" text-anchor="end" font-size="7.7" fill="#141414" class="t" textLength="41.97" lengthAdjust="spacingAndGlyphs">IL–2R–alpha</text>
<line x1="320.40" y1="573.30" x2="323.0" y2="573.30" stroke="#1a1a1a" stroke-width="1"/>
<text x="316.8" y="575.30" text-anchor="end" font-size="7.7" fill="#141414" class="t" textLength="51.01" lengthAdjust="spacingAndGlyphs">Pre–LD platelet</text>
<line x1="320.40" y1="584.30" x2="323.0" y2="584.30" stroke="#1a1a1a" stroke-width="1"/>
<text x="316.8" y="586.30" text-anchor="end" font-size="7.7" fill="#141414" class="t" textLength="42.36" lengthAdjust="spacingAndGlyphs">Pre–LD ANC</text>
<line x1="428.5" y1="353.30" x2="457" y2="353.30" stroke="#d0284a" stroke-width="1.3"/>
<line x1="367.8" y1="364.30" x2="401.2" y2="364.30" stroke="#5a5aa8" stroke-width="1.3"/>
<line x1="359.7" y1="375.30" x2="402" y2="375.30" stroke="#5a5aa8" stroke-width="1.3"/>
<line x1="398.5" y1="386.30" x2="428" y2="386.30" stroke="#6a9cc6" stroke-width="1.3"/>
<line x1="397.1" y1="397.30" x2="429.25" y2="397.30" stroke="#6a9cc6" stroke-width="1.3"/>
<line x1="374" y1="408.30" x2="409.2" y2="408.30" stroke="#4a88b8" stroke-width="1.3"/>
<line x1="376.1" y1="419.30" x2="411.1" y2="419.30" stroke="#3a78b0" stroke-width="1.3"/>
<line x1="381.2" y1="430.30" x2="409.5" y2="430.30" stroke="#3a78b0" stroke-width="1.3"/>
<line x1="391.7" y1="441.30" x2="420.5" y2="441.30" stroke="#2a64a0" stroke-width="1.3"/>
<line x1="381.8" y1="452.30" x2="410.6" y2="452.30" stroke="#2a64a0" stroke-width="1.3"/>
<line x1="390.9" y1="463.30" x2="420.6" y2="463.30" stroke="#2a64a0" stroke-width="1.3"/>
<line x1="387.7" y1="474.30" x2="422.7" y2="474.30" stroke="#2a64a0" stroke-width="1.3"/>
<line x1="387.2" y1="485.30" x2="423.8" y2="485.30" stroke="#2a64a0" stroke-width="1.3"/>
<line x1="381" y1="496.30" x2="413.3" y2="496.30" stroke="#2a64a0" stroke-width="1.3"/>
<line x1="389.9" y1="507.30" x2="418.7" y2="507.30" stroke="#2a64a0" stroke-width="1.3"/>
<line x1="379.1" y1="518.30" x2="417.6" y2="518.30" stroke="#2a64a0" stroke-width="1.3"/>
<line x1="388" y1="529.30" x2="417.6" y2="529.30" stroke="#2a64a0" stroke-width="1.3"/>
<line x1="387.2" y1="540.30" x2="418.1" y2="540.30" stroke="#2a64a0" stroke-width="1.3"/>
<line x1="384.7" y1="551.30" x2="420.8" y2="551.30" stroke="#2a64a0" stroke-width="1.3"/>
<line x1="385.3" y1="562.30" x2="418.9" y2="562.30" stroke="#2a64a0" stroke-width="1.3"/>
<line x1="416.5" y1="573.30" x2="445.9" y2="573.30" stroke="#d45a78" stroke-width="1.3"/>
<line x1="383.9" y1="584.30" x2="409.5" y2="584.30" stroke="#2a64a0" stroke-width="1.3"/>
<line x1="400.8" y1="349.30" x2="400.8" y2="591.2" stroke="#1a1a1a" stroke-width="1.15" stroke-dasharray="4.6 4.25"/>
<circle cx="442.8" cy="353.30" r="2.1" fill="#c5082f"/>
<circle cx="384.5" cy="364.30" r="2.1" fill="#4a4a98"/>
<circle cx="381" cy="375.30" r="2.1" fill="#4a4a98"/>
<circle cx="413.1" cy="386.30" r="2.1" fill="#5a8cbc"/>
<circle cx="413" cy="397.30" r="2.1" fill="#5a8cbc"/>
<circle cx="391.5" cy="408.30" r="2.1" fill="#3a78a8"/>
<circle cx="393.4" cy="419.30" r="2.1" fill="#2a68a0"/>
<circle cx="395.2" cy="430.30" r="2.1" fill="#2a68a0"/>
<circle cx="406" cy="441.30" r="2.1" fill="#0f4a84"/>
<circle cx="395.8" cy="452.30" r="2.1" fill="#0f4a84"/>
<circle cx="405.9" cy="463.30" r="2.1" fill="#0f4a84"/>
<circle cx="405.2" cy="474.30" r="2.1" fill="#0f4a84"/>
<circle cx="405.5" cy="485.30" r="2.1" fill="#0f4a84"/>
<circle cx="397.1" cy="496.30" r="2.1" fill="#0f4a84"/>
<circle cx="404.4" cy="507.30" r="2.1" fill="#0f4a84"/>
<circle cx="398.2" cy="518.30" r="2.1" fill="#0f4a84"/>
<circle cx="402.5" cy="529.30" r="2.1" fill="#0f4a84"/>
<circle cx="402.5" cy="540.30" r="2.1" fill="#0f4a84"/>
<circle cx="402.5" cy="551.30" r="2.1" fill="#0f4a84"/>
<circle cx="402" cy="562.30" r="2.1" fill="#0f4a84"/>
<circle cx="431" cy="573.30" r="2.1" fill="#cc4466"/>
<circle cx="396.6" cy="584.30" r="2.1" fill="#0f4a84"/>
<line x1="329.49" y1="591.2" x2="329.49" y2="593.80" stroke="#1a1a1a" stroke-width="1"/>
<text x="329.49" y="602.3" text-anchor="middle" font-size="7.8" fill="#141414" class="t">−0.30</text>
<line x1="353.26" y1="591.2" x2="353.26" y2="593.80" stroke="#1a1a1a" stroke-width="1"/>
<text x="353.26" y="602.3" text-anchor="middle" font-size="7.8" fill="#141414" class="t">−0.20</text>
<line x1="377.03" y1="591.2" x2="377.03" y2="593.80" stroke="#1a1a1a" stroke-width="1"/>
<text x="377.03" y="602.3" text-anchor="middle" font-size="7.8" fill="#141414" class="t">−0.10</text>
<line x1="400.80" y1="591.2" x2="400.80" y2="593.80" stroke="#1a1a1a" stroke-width="1"/>
<text x="400.80" y="602.3" text-anchor="middle" font-size="7.8" fill="#141414" class="t">0.00</text>
<line x1="424.57" y1="591.2" x2="424.57" y2="593.80" stroke="#1a1a1a" stroke-width="1"/>
<text x="424.57" y="602.3" text-anchor="middle" font-size="7.8" fill="#141414" class="t">0.10</text>
<line x1="448.34" y1="591.2" x2="448.34" y2="593.80" stroke="#1a1a1a" stroke-width="1"/>
<text x="448.34" y="602.3" text-anchor="middle" font-size="7.8" fill="#141414" class="t">0.20</text>
<line x1="472.11" y1="591.2" x2="472.11" y2="593.80" stroke="#1a1a1a" stroke-width="1"/>
<text x="472.11" y="602.3" text-anchor="middle" font-size="7.8" fill="#141414" class="t">0.30</text>
<text x="400.80" y="614.2" text-anchor="middle" font-size="8.3" fill="#141414" class="t" textLength="103.5" lengthAdjust="spacingAndGlyphs">Regression beta coefficient (95% CI)</text>
<text x="400.80" y="329.8" text-anchor="middle" font-size="8.9" fill="#111" class="t" textLength="102.5" lengthAdjust="spacingAndGlyphs">Cytokines associated with</text>
<text x="400.80" y="340.6" text-anchor="middle" font-size="8.9" fill="#111" class="t" textLength="84.6" lengthAdjust="spacingAndGlyphs">Day-28 platelet count</text>
<text x="260.2" y="326.5" font-size="10.0" font-weight="bold" fill="#000">D</text>
<defs><linearGradient id="gD" x1="0" y1="0" x2="0" y2="1"><stop offset="0" stop-color="#2c5fac"/><stop offset="0.12" stop-color="#42569e"/><stop offset="0.24" stop-color="#5a4f92"/><stop offset="0.4" stop-color="#744a80"/><stop offset="0.57" stop-color="#924568"/><stop offset="0.75" stop-color="#a8344a"/><stop offset="1" stop-color="#bd0f2c"/></linearGradient></defs>
<rect x="481.4" y="449.4" width="9.90" height="48.30" fill="url(#gD)"/>
<line x1="481.4" y1="458.4" x2="483.30" y2="458.4" stroke="#fff" stroke-width="0.9"/>
<line x1="489.40" y1="458.4" x2="491.3" y2="458.4" stroke="#fff" stroke-width="0.9"/>
<text x="494.60" y="461.00" font-size="7.3" fill="#141414" class="t">0.050</text>
<line x1="481.4" y1="469.9" x2="483.30" y2="469.9" stroke="#fff" stroke-width="0.9"/>
<line x1="489.40" y1="469.9" x2="491.3" y2="469.9" stroke="#fff" stroke-width="0.9"/>
<text x="494.60" y="472.50" font-size="7.3" fill="#141414" class="t">0.001</text>
<text x="481.4" y="445.30" font-size="7.3" fill="#141414" class="t" textLength="23.6" lengthAdjust="spacingAndGlyphs">p−value</text>
<rect x="0" y="623" width="520" height="1" fill="#000" fill-opacity="0.35"/>
</svg>
<div class="bd"></div>
</body></html>
